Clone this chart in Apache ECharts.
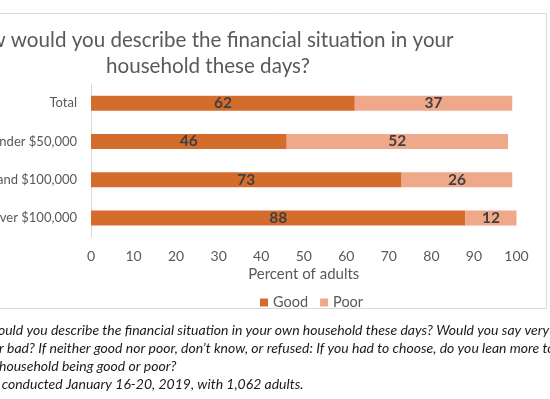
<!DOCTYPE html>
<html>
<head>
    <meta charset="utf-8">
    <title>Household financial situation</title>
    <script src="https://cdn.jsdelivr.net/npm/echarts@6/dist/echarts.min.js"></script>
    <style>
        html, body { margin: 0; padding: 0; background: #fff; }
        #chart1 { width: 550px; height: 399px; }
    </style>
</head>
<body>
<div id="chart1"></div>
<script type="text/javascript">

    // data
    var groups = ['Total', 'Under $50,000', 'Between $50,000 and $100,000', 'Over $100,000'];
    var good = [62, 46, 73, 88];
    var poor = [37, 52, 26, 12];
    var xTicks = [0, 100, 10]; // min, max, interval

    var titleLines = ['How would you describe the financial situation in your', 'household these days?'];

    // footnote: [text, hidden part on the left, x where the visible part starts]
    var notes = [
        ['Question: How would you describe the financial situation in your own household these days? Would you say very', 'Question: How w', -2],
        ['good or bad? If neither good nor poor, don\u2019t know, or refused: If you had to choose, do you lean more toward', 'good o', -1],
        ['your household being good or poor?', 'your ', -1],
        ['Source: AP-NORC poll conducted January 16-20, 2019, with 1,062 adults.', 'Source: AP-NORC poll ', 1.7]
    ];

    var noteFont = 'italic 14px Lato';
    var measure = document.createElement('canvas').getContext('2d');
    measure.font = noteFont;

    var graphics = [{
        type: 'rect',
        shape: { x: -10, y: 13.5, width: 556.5, height: 295 },
        style: { fill: 'none', stroke: '#d9d9d9', lineWidth: 1 },
        silent: true
    }];
    titleLines.forEach(function (t, i) {
        graphics.push({
            type: 'text', x: 208, y: 40 + i * 26.7,
            style: { text: t, font: '20.6px Lato', fill: '#595959', align: 'center', verticalAlign: 'middle' }
        });
    });
    notes.forEach(function (n, i) {
        graphics.push({
            type: 'text', x: n[2] - measure.measureText(n[1]).width, y: 330 + i * 18.2,
            style: { text: n[0], font: noteFont, fill: '#1a1a1a', align: 'left', verticalAlign: 'middle' }
        });
    });

    var myChart1 = echarts.init(document.getElementById('chart1'));
    myChart1.setOption({
        animation: false,
        textStyle: { fontFamily: 'Lato' },
        grid: { left: 91, top: 84, width: 425.5, height: 153, containLabel: false, outerBoundsMode: 'none' },
        legend: {
            data: ['Good', 'Poor'],
            left: 255, top: 290,
            itemWidth: 8, itemHeight: 8, itemGap: 12,
            icon: 'rect',
            textStyle: { color: '#595959', fontSize: 14.5 }
        },
        xAxis: {
            type: 'value',
            min: xTicks[0], max: xTicks[1], interval: xTicks[2],
            name: 'Percent of adults',
            nameLocation: 'middle',
            nameGap: 30,
            nameTextStyle: { color: '#595959', fontSize: 15 },
            axisLine: { show: false },
            axisTick: { show: false },
            splitLine: { show: false },
            axisLabel: { color: '#595959', fontSize: 14, margin: 12 }
        },
        yAxis: {
            type: 'category',
            data: groups,
            inverse: true,
            axisLine: { lineStyle: { color: '#d9d9d9' } },
            axisTick: { show: false },
            axisLabel: { color: '#595959', fontSize: 13, margin: 14 }
        },
        series: [{
            name: 'Good',
            type: 'bar',
            stack: 'all',
            barWidth: 15,
            data: good,
            itemStyle: { color: '#d46c2b' },
            label: { show: true, position: 'inside', color: '#404040', fontWeight: 'bold', fontSize: 15.5 }
        }, {
            name: 'Poor',
            type: 'bar',
            stack: 'all',
            barWidth: 15,
            data: poor,
            itemStyle: { color: '#f0a88a' },
            label: { show: true, position: 'inside', color: '#404040', fontWeight: 'bold', fontSize: 15.5 }
        }],
        graphic: graphics
    });
</script>
</body>
</html>
